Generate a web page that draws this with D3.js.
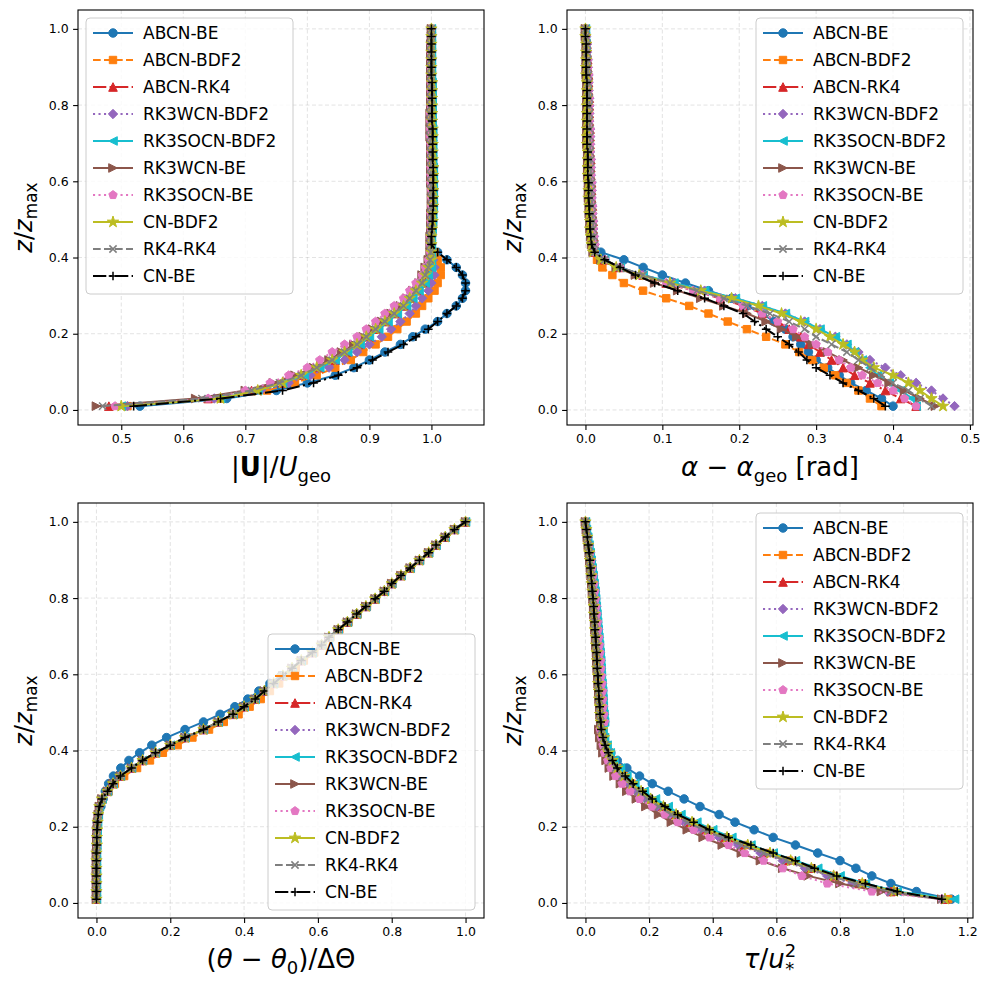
<!DOCTYPE html>
<html><head><meta charset="utf-8">
<script src="https://cdn.jsdelivr.net/npm/d3@7"></script>
<style>body{margin:0;background:#fff}text{font-family:"DejaVu Sans",sans-serif}</style>
</head><body><svg id="c" width="989" height="989"></svg>
<script>
const NAMES=["ABCN-BE","ABCN-BDF2","ABCN-RK4","RK3WCN-BDF2","RK3SOCN-BDF2","RK3WCN-BE","RK3SOCN-BE","CN-BDF2","RK4-RK4","CN-BE"];
const COLORS=["#1f77b4","#ff7f0e","#d62728","#9467bd","#17becf","#8c564b","#e377c2","#bcbd22","#7f7f7f","#000000"];
const MARKERS=["o","s","^","D","<",">","p","*","x","+"];
const DASHES=["","7.7,3.3","13.3,3.3,2.1,3.3","2.1,3.4","","","2.1,3.4","","7.7,3.3","13.3,3.3,2.1,3.3"];
const Z=[0.010,0.030,0.051,0.071,0.091,0.111,0.131,0.152,0.172,0.192,0.212,0.232,0.253,0.273,0.293,0.313,0.333,0.354,0.374,0.394,0.414,0.434,0.455,0.475,0.495,0.515,0.535,0.556,0.576,0.596,0.616,0.636,0.657,0.677,0.697,0.717,0.737,0.758,0.778,0.798,0.818,0.838,0.859,0.879,0.899,0.919,0.939,0.960,0.980,1.000];
const YTICKS=[0,0.2,0.4,0.6,0.8,1.0];
const XTICKS1=[0.5,0.6,0.7,0.8,0.9,1.0];
const XTICKS2=[0,0.1,0.2,0.3,0.4,0.5];
const XTICKS3=[0,0.2,0.4,0.6,0.8,1.0];
const XTICKS4=[0,0.2,0.4,0.6,0.8,1.0,1.2];

// Panel 1: |U|/Ugeo  (lower parts + upper tails)
const U_TAIL=[1.0,1.0,1.001,1.002,1.002,1.003,1.003,1.003,1.003,1.003,1.003,1.002,1.002,1.002,1.002,1.002,1.001,1.001,1.001,1.001,1.001,1.001,1.0,1.0,1.0,1.0,1.0,1.0,1.0];
const U_TAIL2=[0.998,0.998,0.999,0.999,0.999,1.0,1.0,1.0,0.999,0.999,0.999,0.999,0.999,0.999,0.998,0.998,0.998,0.998,0.999,0.999,0.999,0.999,0.999,0.999,0.999,0.999,0.999,1.0,1.0];
const U_LOW=[
[.53,.67,.75,.80,.845,.875,.90,.925,.95,.97,.99,1.01,1.025,1.04,1.05,1.055,1.055,1.05,1.04,1.025,1.01],
[.51,.66,.735,.78,.815,.845,.87,.89,.91,.93,.945,.96,.975,.985,.995,1.005,1.01,1.015,1.015,1.01,1.005],
[.48,.64,.71,.76,.79,.82,.845,.865,.885,.90,.915,.93,.945,.96,.97,.98,.99,.995,1.0,1.0,1.0],
[.51,.65,.725,.77,.805,.835,.86,.88,.90,.92,.935,.95,.965,.975,.985,.995,1.0,1.005,1.005,1.003,1.001],
[.50,.66,.72,.76,.795,.82,.845,.865,.885,.90,.915,.93,.945,.96,.97,.98,.99,.995,1.0,1.0,1.0],
[.46,.62,.70,.745,.78,.81,.835,.855,.875,.89,.905,.92,.935,.95,.96,.97,.98,.985,.99,.995,.998],
[.49,.64,.70,.74,.77,.80,.82,.84,.86,.88,.895,.91,.925,.94,.955,.965,.975,.985,.99,.995,.998],
[.50,.66,.72,.76,.79,.815,.84,.86,.88,.895,.91,.925,.94,.955,.965,.975,.985,.99,.995,1.0,1.0],
[.47,.63,.71,.755,.79,.815,.84,.86,.88,.895,.91,.925,.94,.955,.965,.975,.985,.99,.995,.998,.999],
[.52,.66,.76,.81,.85,.88,.905,.93,.955,.975,.995,1.01,1.025,1.04,1.05,1.055,1.055,1.05,1.04,1.025,1.01]];
const U_TAILSEL=[0,0,0,0,0,1,1,0,1,0];

// Panel 2: alpha - alpha_geo
const A_TAIL=[.008,.007,.006,.006,.005,.005,.004,.004,.004,.003,.003,.003,.003,.002,.002,.002,.002,.002,.002,.002,.002,.002,.001,.001,.001,.001,.001,0,0];
const A_TAIL2=[.012,.011,.01,.01,.009,.009,.008,.008,.008,.007,.007,.007,.006,.006,.006,.006,.005,.005,.005,.005,.004,.004,.004,.003,.003,.002,.002,.001,0];
const A_LOW=[
[.40,.385,.365,.345,.33,.315,.30,.29,.28,.27,.26,.245,.23,.21,.19,.16,.13,.10,.075,.05,.02,.01],
[.385,.37,.355,.34,.325,.31,.295,.278,.26,.235,.21,.185,.16,.135,.105,.075,.05,.035,.022,.015,.01],
[.43,.41,.39,.37,.35,.335,.32,.305,.29,.28,.265,.25,.23,.205,.175,.14,.105,.075,.045,.025,.012],
[.48,.465,.45,.43,.41,.39,.37,.355,.34,.325,.305,.285,.26,.23,.195,.155,.115,.075,.045,.025,.012],
[.43,.425,.41,.395,.38,.37,.36,.35,.34,.325,.305,.285,.26,.23,.195,.155,.115,.075,.045,.025,.012],
[.455,.435,.415,.395,.375,.355,.335,.315,.295,.275,.255,.235,.21,.18,.15,.12,.09,.065,.04,.02,.01],
[.43,.415,.40,.38,.36,.345,.33,.315,.30,.285,.27,.25,.23,.205,.175,.14,.105,.072,.045,.025,.012],
[.465,.45,.435,.42,.40,.375,.36,.35,.335,.318,.30,.28,.255,.225,.19,.15,.11,.07,.04,.02,.01],
[.45,.435,.42,.40,.385,.37,.355,.34,.32,.30,.285,.265,.24,.21,.18,.145,.11,.075,.045,.025,.012],
[.39,.375,.355,.335,.318,.30,.288,.277,.265,.25,.235,.22,.205,.18,.155,.12,.09,.065,.045,.025,.012]];
const A_TAILSEL=[0,0,1,1,0,0,1,0,1,0];

// Panel 3: (theta - theta0)/dTheta
const TH_BASE=[0,0,0,0,0,0,0,.001,.001,.002,.003,.005,.008,.015,.03,.045,.065,.095,.125,.16,.20,.24,.29,.33,.37,.40,.43,.455,.48,.505,.53,.555,.585,.61,.63,.655,.68,.705,.73,.755,.78,.80,.825,.85,.875,.9,.92,.945,.97,1.0];
const TH_ORANGE=[0,0,0,0,0,0,0,.001,.001,.002,.003,.005,.009,.017,.033,.05,.075,.11,.145,.18,.22,.26,.305,.345,.385,.415,.445,.47,.495,.515,.54,.562,.59,.613,.634,.658,.683,.708,.733,.757,.782,.802,.827,.852,.877,.901,.921,.946,.971,1.0];
const TH_BLUE=[0,0,0,0,0,0,0,0,.001,.001,.002,.005,.012,.018,.024,.033,.046,.066,.088,.117,.15,.19,.24,.29,.335,.375,.41,.44,.47,.50,.53,.555,.585,.61,.63,.655,.68,.705,.73,.755,.78,.80,.825,.85,.875,.9,.92,.945,.97,1.0];

// Panel 4: tau/u*^2
const T_TAIL=[.048,.046,.045,.043,.042,.04,.039,.037,.036,.035,.033,.032,.03,.029,.027,.026,.024,.022,.02,.018,.016,.014,.012,.009,.006,.003,0];
const T_TAIL2=[.06,.058,.056,.055,.054,.052,.05,.049,.048,.046,.044,.042,.04,.038,.036,.034,.032,.03,.027,.024,.021,.018,.015,.011,.007,.003,0];
const T_LOW=[
[1.15,1.04,.96,.90,.85,.80,.73,.66,.59,.53,.47,.42,.36,.31,.26,.21,.17,.13,.10,.08,.065,.055,.05],
[1.14,.97,.87,.78,.71,.64,.57,.50,.44,.38,.33,.28,.24,.20,.17,.145,.12,.10,.085,.075,.066,.06,.056],
[1.13,.96,.86,.77,.70,.63,.56,.49,.43,.37,.32,.275,.235,.20,.17,.14,.115,.095,.08,.07,.062,.056,.052],
[1.12,.95,.84,.76,.69,.62,.55,.48,.42,.36,.31,.265,.225,.19,.16,.135,.11,.09,.078,.068,.06,.055,.05],
[1.16,.98,.88,.80,.73,.66,.59,.52,.46,.40,.35,.30,.26,.22,.185,.155,.13,.11,.09,.078,.068,.06,.055],
[1.12,.93,.80,.70,.62,.55,.49,.43,.37,.32,.27,.23,.19,.16,.13,.11,.09,.075,.065,.055,.05,.045,.042],
[1.12,.90,.76,.68,.62,.56,.50,.45,.39,.34,.29,.25,.21,.17,.14,.115,.095,.08,.07,.06,.055,.05,.046],
[1.13,.97,.87,.78,.71,.645,.58,.51,.445,.385,.335,.285,.245,.205,.175,.147,.122,.10,.085,.073,.064,.058,.053],
[1.12,.96,.85,.77,.70,.63,.56,.49,.43,.37,.32,.27,.23,.195,.165,.14,.115,.095,.08,.07,.062,.056,.05],
[1.12,.98,.88,.79,.72,.66,.59,.52,.45,.39,.34,.29,.25,.21,.18,.15,.125,.10,.085,.072,.062,.055,.05]];
const T_TAILSEL=[0,1,0,1,1,0,1,0,0,0];

function full(low,tail){const n=Z.length;return low.concat(tail.slice(tail.length-(n-low.length)));}
const P1=U_LOW.map((l,i)=>full(l,U_TAILSEL[i]?U_TAIL2:U_TAIL));
const P2=A_LOW.map((l,i)=>full(l,A_TAILSEL[i]?A_TAIL2:A_TAIL));
const P3=NAMES.map((n,i)=>i===0?TH_BLUE:(i===1?TH_ORANGE:TH_BASE));
const P4=T_LOW.map((l,i)=>full(l,T_TAILSEL[i]?T_TAIL2:T_TAIL));

const svg=d3.select("#c");
function markerPath(m){
  const poly=(pts)=>"M"+pts.map(p=>p.join(",")).join("L")+"Z";
  switch(m){
    case "o": return d3.symbol(d3.symbolCircle,Math.PI*18)();
    case "s": return poly([[-3.7,-3.7],[3.7,-3.7],[3.7,3.7],[-3.7,3.7]]);
    case "^": return poly([[0,-4.3],[4.3,4.3],[-4.3,4.3]]);
    case "<": return poly([[-4.3,0],[4.3,-4.3],[4.3,4.3]]);
    case ">": return poly([[4.3,0],[-4.3,-4.3],[-4.3,4.3]]);
    case "D": return poly([[0,-4.7],[4.7,0],[0,4.7],[-4.7,0]]);
    case "p": return poly(d3.range(5).map(k=>{const a=-Math.PI/2+k*2*Math.PI/5;return [4.4*Math.cos(a),4.4*Math.sin(a)];}));
    case "*": return d3.symbol(d3.symbolStar,40)();
    case "x": return "M-3.6,-3.6L3.6,3.6M-3.6,3.6L3.6,-3.6";
    case "+": return "M-4.3,0L4.3,0M0,-4.3L0,4.3";
  }
}
function drawMarker(g,m,c,x,y){
  const p=g.append("path").attr("d",markerPath(m)).attr("transform",`translate(${x},${y})`);
  if(m==="x"||m==="+") p.attr("fill","none").attr("stroke",c).attr("stroke-width",1.5);
  else p.attr("fill",c).attr("stroke",c).attr("stroke-width",1);
}

function panel(L,T,W,H,data,xticks,legendPos){
  const all=data.flat();
  const mn=d3.min(all),mx=d3.max(all),pad=(mx-mn)*0.05;
  const x=d3.scaleLinear().domain([mn-pad,mx+pad]).range([L,L+W]);
  const zp=(Z[Z.length-1]-Z[0])*0.05;
  const y=d3.scaleLinear().domain([Z[0]-zp,Z[Z.length-1]+zp]).range([T+H,T]);
  const g=svg.append("g");
  g.append("g").selectAll("line").data(xticks).join("line").attr("x1",d=>x(d)).attr("x2",d=>x(d)).attr("y1",T).attr("y2",T+H).attr("stroke","#b0b0b0").attr("stroke-opacity",0.45).attr("stroke-dasharray","4,2.5").attr("stroke-width",0.8);
  g.append("g").selectAll("line").data(YTICKS).join("line").attr("y1",d=>y(d)).attr("y2",d=>y(d)).attr("x1",L).attr("x2",L+W).attr("stroke","#b0b0b0").attr("stroke-opacity",0.45).attr("stroke-dasharray","4,2.5").attr("stroke-width",0.8);
  const clip="cl"+L+"_"+T;
  svg.append("clipPath").attr("id",clip).append("rect").attr("x",L).attr("y",T).attr("width",W).attr("height",H);
  const pg=g.append("g").attr("clip-path",`url(#${clip})`);
  data.forEach((s,i)=>{
    const line=d3.line().x(d=>x(d)).y((d,j)=>y(Z[j]));
    pg.append("path").attr("d",line(s)).attr("fill","none").attr("stroke",COLORS[i]).attr("stroke-width",2).attr("stroke-dasharray",DASHES[i]||null);
    const mg=pg.append("g");
    s.forEach((v,j)=>drawMarker(mg,MARKERS[i],COLORS[i],x(v),y(Z[j])));
  });
  const xa=g.append("g").attr("transform",`translate(0,${T+H})`).call(d3.axisBottom(x).tickValues(xticks).tickFormat(d3.format(".1f")).tickSize(4.9).tickPadding(4.5));
  const ya=g.append("g").attr("transform",`translate(${L},0)`).call(d3.axisLeft(y).tickValues(YTICKS).tickFormat(d3.format(".1f")).tickSize(4.9).tickPadding(4.5));
  [xa,ya].forEach(a=>{a.select(".domain").remove();a.selectAll("text").attr("font-size",12.5).attr("font-family","DejaVu Sans").attr("fill","#000");a.selectAll("line").attr("stroke","#000").attr("stroke-width",1.1);});
  g.append("rect").attr("x",L).attr("y",T).attr("width",W).attr("height",H).attr("fill","none").attr("stroke","#000").attr("stroke-width",1.1);
  const [lx,ly]=legendPos;
  const lg=g.append("g").attr("transform",`translate(${lx},${ly})`);
  lg.append("rect").attr("width",207).attr("height",276).attr("rx",4).attr("fill","#fff").attr("fill-opacity",0.8).attr("stroke","#ccc");
  NAMES.forEach((n,i)=>{
    const yy=15+i*27;
    lg.append("line").attr("x1",7).attr("x2",47).attr("y1",yy).attr("y2",yy).attr("stroke",COLORS[i]).attr("stroke-width",2).attr("stroke-dasharray",DASHES[i]||null);
    drawMarker(lg,MARKERS[i],COLORS[i],27,yy);
    lg.append("text").attr("x",57).attr("y",yy+6).attr("font-size",17).text(n);
  });
  const yl=svg.append("text").attr("transform",`translate(${L-46},${T+H/2}) rotate(-90)`).attr("text-anchor","middle").attr("font-size",24);
  yl.append("tspan").attr("font-style","italic").text("z");
  yl.append("tspan").text("/");
  yl.append("tspan").attr("font-style","italic").text("z");
  yl.append("tspan").attr("font-size",17).attr("dy",5).text("max");
}
const LC=78,RC=567,W=406,R1=10,R2=503,H=415;
panel(LC,R1,W,H,P1,XTICKS1,[86,18]);
panel(RC,R1,W,H,P2,XTICKS2,[756,18]);
panel(LC,R2,W,H,P3,XTICKS3,[268,634]);
panel(RC,R2,W,H,P4,XTICKS4,[756,513]);

function xlabel(cx,cy,parts){
  const t=svg.append("text").attr("x",cx).attr("y",cy).attr("text-anchor","middle").attr("font-size",26);
  parts.forEach(p=>{const s=t.append("tspan").text(p[0]);
    if(p[1]==="i")s.attr("font-style","italic");
    if(p[1]==="b")s.attr("font-weight","bold");
    if(p[1]==="sub")s.attr("font-size",18).attr("dy",6);
    if(p[1]==="sup")s.attr("font-size",18).attr("dy",-11);
    if(p[2]!==undefined)s.attr("dy",p[2]);
    if(p[3]!==undefined)s.attr("dx",p[3]);
  });
}
xlabel(LC+W/2,476,[["|"],["U","b"],["|/"],["U","i"],["geo","sub"]]);
xlabel(RC+W/2,476,[["α","i"],[" − "],["α","i"],["geo","sub"],[" [rad]","",-6]]);
xlabel(LC+W/2,968,[["("],["θ","i"],[" − "],["θ","i"],["0","sub"],[")/ΔΘ","",-6]]);
xlabel(RC+W/2,968,[["τ","i"],["/"],["u","i"],["2","sup"],["*","sub",18,-11]]);
</script></body></html>
